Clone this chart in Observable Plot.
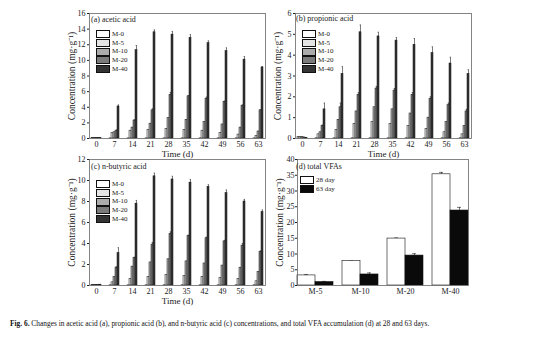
<!DOCTYPE html>
<html><head><meta charset="utf-8">
<script src="https://cdn.jsdelivr.net/npm/d3@7"></script>
<script src="https://cdn.jsdelivr.net/npm/@observablehq/plot@0.6"></script>
<style>
body{margin:0;background:#fff;font-family:"Liberation Serif","Times New Roman",serif;}
#wrap{position:relative;width:554px;height:337px;overflow:hidden;}
.panel{position:absolute;}
.ttl{position:absolute;font-size:8px;color:#222;white-space:nowrap;line-height:1;}
.leg{position:absolute;font-size:7px;color:#222;line-height:1;}
.leg .row{display:flex;align-items:center;height:8.7px;}
.leg .sw{width:14px;height:8px;border:0.6px solid #111;box-sizing:border-box;margin-right:2px;}
#cap{position:absolute;left:10px;top:319px;font-size:7.4px;color:#111;white-space:nowrap;}
</style></head><body><div id="wrap"></div>
<script>
// ---------- data ----------
const times = [0, 7, 14, 21, 28, 35, 42, 49, 56, 63];
const series = ["M-0", "M-5", "M-10", "M-20", "M-40"];

// (a) acetic acid, mg/g
const aceticM0  = [0.04, 0.02, 0.02, 0.02, 0.02, 0.02, 0.02, 0.02, 0.02, 0.02];
const aceticM5  = [0.04, 0.7, 1.0, 1.1, 1.2, 1.1, 1.0, 0.7, 0.5, 0.3];
const aceticM10 = [0.04, 0.8, 1.4, 1.9, 2.6, 2.4, 2.1, 1.8, 1.4, 0.9];
const aceticM20 = [0.04, 1.0, 2.3, 3.6, 5.6, 5.4, 5.1, 4.7, 4.2, 3.6];
const aceticM40 = [0.04, 4.1, 11.3, 13.6, 13.3, 12.9, 12.2, 11.2, 10.1, 9.1];
const aceticErrM20 = [0, 0.1, 0.1, 0.2, 0.3, 0.1, 0.2, 0.1, 0.1, 0.1];
const aceticErrM40 = [0, 0.2, 0.6, 0.3, 0.4, 0.4, 0.3, 0.4, 0.4, 0.1];

// (b) propionic acid, mg/g
const propM0  = [0.08, 0.01, 0.01, 0.01, 0.01, 0.01, 0.01, 0.01, 0.01, 0.01];
const propM5  = [0.08, 0.2, 0.4, 0.7, 0.8, 0.7, 0.6, 0.45, 0.3, 0.2];
const propM10 = [0.08, 0.3, 0.9, 1.3, 1.5, 1.4, 1.2, 1.0, 0.8, 0.6];
const propM20 = [0.05, 0.6, 1.5, 2.1, 2.4, 2.3, 2.1, 1.9, 1.6, 1.3];
const propM40 = [0.03, 1.4, 3.1, 5.1, 4.9, 4.7, 4.5, 4.1, 3.6, 3.1];
const propErrM20 = [0, 0.05, 0.2, 0.1, 0.1, 0.1, 0.1, 0.1, 0.1, 0.1];
const propErrM40 = [0, 0.3, 0.35, 0.35, 0.2, 0.15, 0.3, 0.3, 0.3, 0.2];

// (c) n-butyric acid, mg/g
const butM0  = [0.05, 0.02, 0.02, 0.02, 0.02, 0.02, 0.02, 0.02, 0.02, 0.02];
const butM5  = [0.05, 0.3, 0.6, 0.8, 1.0, 0.9, 0.8, 0.7, 0.6, 0.4];
const butM10 = [0.05, 0.8, 1.8, 2.2, 2.5, 2.3, 2.1, 1.9, 1.7, 1.3];
const butM20 = [0.05, 1.7, 2.6, 3.9, 4.9, 4.7, 4.5, 4.2, 3.8, 3.2];
const butM40 = [0.08, 3.1, 7.8, 10.4, 10.1, 9.8, 9.4, 8.8, 8.0, 7.0];
const butErrM20 = [0, 0.1, 0.1, 0.2, 0.2, 0.1, 0.1, 0.1, 0.2, 0.1];
const butErrM40 = [0, 0.5, 0.3, 0.3, 0.3, 0.3, 0.2, 0.3, 0.2, 0.2];

// (d) total VFAs
const groups = ["M-5", "M-10", "M-20", "M-40"];
const days = ["28 day", "63 day"];
const total28 = [3.2, 7.8, 14.9, 35.3];
const total63 = [1.1, 3.5, 9.5, 23.8];
const totalErr28 = [0.3, 0.1, 0.2, 0.6];
const totalErr63 = [0.2, 0.5, 0.6, 1.0];

const caption = "Changes in acetic acid (a), propionic acid (b), and n-butyric acid (c) concentrations, and total VFA accumulation (d) at 28 and 63 days.";

// ---------- styling ----------
const seriesFill = ["#ffffff", "#e4e4e4", "#ababab", "#7b7b7b", "#343434"];
const dayFill = ["#ffffff", "#0a0a0a"];
const FONT = "Liberation Serif, Times New Roman, serif";
const wrap = document.getElementById("wrap");

function place(el, left, top) {
  el.style.position = "absolute";
  el.style.left = left + "px";
  el.style.top = top + "px";
  wrap.appendChild(el);
}
function addTitle(text, left, top) {
  const d = document.createElement("div");
  d.className = "ttl"; d.textContent = text;
  place(d, left, top);
}
function addLegend(labels, fills, left, top) {
  const d = document.createElement("div");
  d.className = "leg";
  labels.forEach((l, i) => {
    const r = document.createElement("div"); r.className = "row";
    const s = document.createElement("div"); s.className = "sw"; s.style.background = fills[i];
    const t = document.createElement("span"); t.textContent = l;
    r.appendChild(s); r.appendChild(t); d.appendChild(r);
  });
  place(d, left, top);
}

function acidPanel({vals, errs, yMax, yStep, left, top, height}) {
  const rows = [];
  series.forEach((s, si) => times.forEach((t, ti) => rows.push({
    time: t, series: s, value: vals[si][ti], err: errs[si] ? errs[si][ti] : 0
  })));
  const errRows = rows.filter(d => d.err > 0);
  const p = Plot.plot({
    width: 215, height,
    marginLeft: 30, marginRight: 5, marginTop: 10, marginBottom: 25,
    style: {fontFamily: FONT, fontSize: "8px", background: "transparent", color: "#222"},
    fx: {domain: times, paddingInner: 0.2, paddingOuter: 0.08},
    x: {domain: series, padding: 0, axis: null},
    y: {domain: [0, yMax]},
    color: {domain: series, range: seriesFill},
    marks: [
      Plot.ruleX(errRows, {fx: "time", x: "series", y1: "value", y2: d => d.value + d.err, stroke: "#222", strokeWidth: 0.6}),
      Plot.tickY(errRows, {fx: "time", x: "series", y: d => d.value + d.err, stroke: "#222", strokeWidth: 0.6, insetLeft: 0.6, insetRight: 0.6}),
      Plot.barY(rows, {fx: "time", x: "series", y: "value", fill: "series", stroke: "#111", strokeWidth: 0.5}),
      Plot.axisY({ticks: d3.range(0, yMax + 1e-9, yStep), tickFormat: d3.format("d"), tickSize: 2, tickPadding: 2, fontSize: 8, label: null}),
      Plot.axisY({ticks: [], label: "Concentration (mg·g⁻¹)", labelAnchor: "center", labelArrow: "none", labelOffset: 21, fontSize: 9.5}),
      Plot.axisFx({anchor: "bottom", tickSize: 0, tickPadding: 3, label: null, fontSize: 8}),
      Plot.axisFx({anchor: "bottom", ticks: [], label: "Time (d)", labelAnchor: "center", labelArrow: "none", labelOffset: 18, fontSize: 9}),
      Plot.frame({facet: "super", stroke: "#666", strokeWidth: 0.8})
    ]
  });
  place(p, left, top);
}

// (a)
acidPanel({vals: [aceticM0, aceticM5, aceticM10, aceticM20, aceticM40], errs: [null, null, null, aceticErrM20, aceticErrM40],
  yMax: 16, yStep: 2, left: 57, top: 3, height: 160});
// (b)
acidPanel({vals: [propM0, propM5, propM10, propM20, propM40], errs: [null, null, null, propErrM20, propErrM40],
  yMax: 6, yStep: 1, left: 263, top: 3, height: 160});
// (c)
acidPanel({vals: [butM0, butM5, butM10, butM20, butM40], errs: [null, null, null, butErrM20, butErrM40],
  yMax: 12, yStep: 2, left: 57, top: 149, height: 161});

// (d)
{
  const rows = [];
  groups.forEach((g, gi) => {
    rows.push({group: g, day: days[0], value: total28[gi], err: totalErr28[gi]});
    rows.push({group: g, day: days[1], value: total63[gi], err: totalErr63[gi]});
  });
  const p = Plot.plot({
    width: 214, height: 161,
    marginLeft: 30, marginRight: 5, marginTop: 10, marginBottom: 25,
    style: {fontFamily: FONT, fontSize: "8px", background: "transparent", color: "#222"},
    fx: {domain: groups, paddingInner: 0.2, paddingOuter: 0.08},
    x: {domain: days, padding: 0, axis: null},
    y: {domain: [0, 40]},
    color: {domain: days, range: dayFill},
    marks: [
      Plot.ruleX(rows, {fx: "group", x: "day", y1: "value", y2: d => d.value + d.err, stroke: "#222", strokeWidth: 0.6}),
      Plot.tickY(rows, {fx: "group", x: "day", y: d => d.value + d.err, stroke: "#222", strokeWidth: 0.6, insetLeft: 7, insetRight: 7}),
      Plot.barY(rows, {fx: "group", x: "day", y: "value", fill: "day", stroke: "#111", strokeWidth: 0.6}),
      Plot.axisY({ticks: d3.range(0, 40.1, 5), tickFormat: d3.format("d"), tickSize: 2, tickPadding: 1, fontSize: 8, label: null}),
      Plot.axisY({ticks: [], label: "Concentration (mg·g⁻¹)", labelAnchor: "center", labelArrow: "none", labelOffset: 21, fontSize: 9.5}),
      Plot.axisFx({anchor: "bottom", tickSize: 0, tickPadding: 3, label: null, fontSize: 8}),
      Plot.frame({facet: "super", stroke: "#666", strokeWidth: 0.8})
    ]
  });
  place(p, 263, 149);
}

// titles and legends
addTitle("(a) acetic acid", 91, 16);
addTitle("(b) propionic acid", 296, 15);
addTitle("(c) n-butyric acid", 91, 163);
addTitle("(d) total VFAs", 296, 163);
addLegend(series, seriesFill, 96, 30);
addLegend(series, seriesFill, 302, 30);
addLegend(series, seriesFill, 96, 180);
addLegend(days, dayFill, 300, 176);

// caption
{
  const c = document.createElement("div");
  c.id = "cap";
  const b = document.createElement("b"); b.textContent = "Fig. 6.";
  c.appendChild(b);
  c.appendChild(document.createTextNode("  " + caption));
  wrap.appendChild(c);
}
</script></body></html>
